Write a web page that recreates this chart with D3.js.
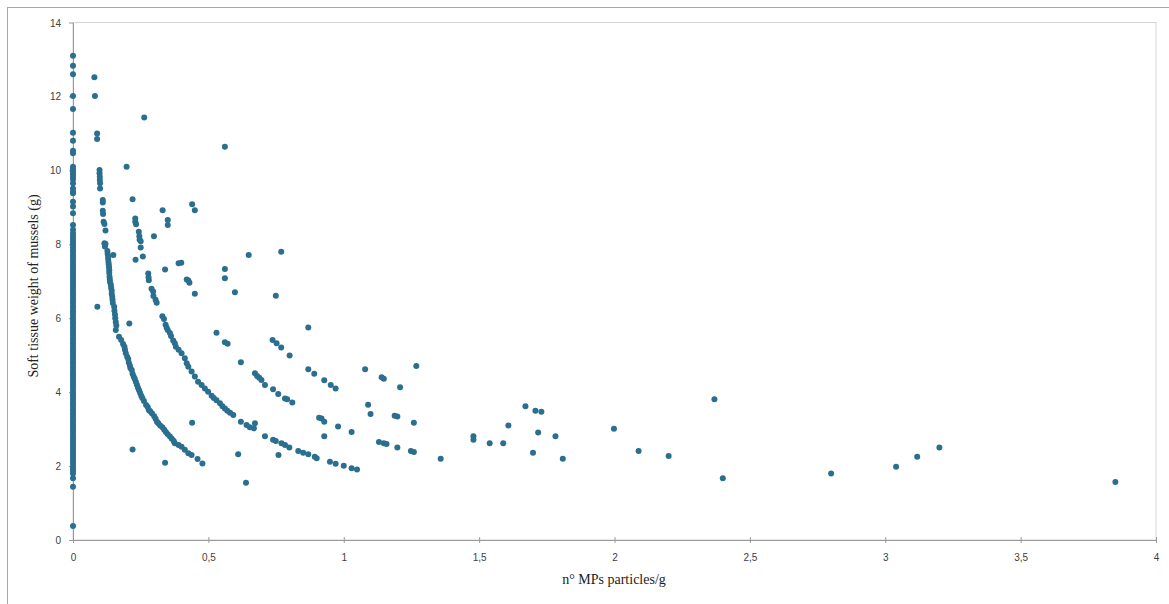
<!DOCTYPE html>
<html>
<head>
<meta charset="utf-8">
<script src="https://cdn.jsdelivr.net/npm/d3@7"></script>
<style>
  body { margin: 0; background: #fff; }
  .tick text { font-family: "Liberation Sans", Arial, sans-serif; font-size: 10px; fill: #404040; }
  .title { font-family: "Liberation Serif", "Times New Roman", serif; font-size: 14px; fill: #222; }
</style>
</head>
<body>
<svg width="1169" height="604"></svg>
<script>
// y values of the mussels with no particles (x = 0)
var atZero = [13.1, 12.83, 12.6, 12.01, 11.66, 11.02, 10.8, 10.53, 10.46, 10.1, 10.03, 9.97, 9.9, 9.83,
  9.76, 9.65, 9.51, 9.42, 9.38, 9.15, 9.02, 8.84, 8.52, 8.39, 8.3, 8.22, 8.15, 8.08, 8.01, 7.93, 7.86,
  7.8, 7.72, 7.65, 7.58, 7.5, 7.43, 7.36, 7.28, 7.21, 7.14, 7.06, 6.99, 6.92, 6.85, 6.77, 6.7, 6.63,
  6.55, 6.48, 6.41, 6.33, 6.26, 6.19, 6.12, 6.04, 5.97, 5.9, 5.83, 5.75, 5.68, 5.61, 5.54, 5.46, 5.39,
  5.32, 5.25, 5.17, 5.1, 5.03, 4.96, 4.88, 4.81, 4.74, 4.67, 4.59, 4.52, 4.45, 4.38, 4.3, 4.23, 4.16,
  4.09, 4.01, 3.94, 3.87, 3.8, 3.72, 3.65, 3.58, 3.51, 3.43, 3.36, 3.29, 3.22, 3.14, 3.07, 3.0, 2.93,
  2.85, 2.78, 2.71, 2.64, 2.56, 2.49, 2.42, 2.35, 2.27, 2.2, 2.13, 2.06, 1.98, 1.92, 1.86, 1.8, 1.67,
  1.44, 0.38];

// [n° MPs particles/g, soft tissue weight (g)]
var bandOne = [[0.079, 12.52], [0.081, 12.01], [0.089, 11.0], [0.089, 10.85], [0.098, 10.01], [0.098, 9.92],
  [0.099, 9.83], [0.099, 9.74], [0.1, 9.65], [0.1, 9.51], [0.11, 9.2], [0.11, 9.13], [0.11, 8.91],
  [0.111, 8.82], [0.113, 8.61], [0.116, 8.55], [0.12, 8.37], [0.116, 8.03], [0.12, 8.01], [0.118, 7.94],
  [0.127, 7.82], [0.128, 7.74], [0.13, 7.67], [0.13, 7.6], [0.131, 7.52], [0.132, 7.45], [0.133, 7.38],
  [0.134, 7.3], [0.134, 7.22], [0.135, 7.12], [0.136, 7.05], [0.137, 6.97], [0.14, 6.9], [0.141, 6.82],
  [0.143, 6.75], [0.143, 6.66], [0.145, 6.58], [0.146, 6.5], [0.147, 6.41], [0.152, 6.31], [0.153, 6.2],
  [0.155, 6.1], [0.156, 6.0], [0.158, 5.9], [0.16, 5.8], [0.158, 5.68], [0.17, 5.5], [0.178, 5.41],
  [0.185, 5.3], [0.19, 5.23], [0.192, 5.15], [0.195, 5.05], [0.2, 4.96], [0.204, 4.9], [0.206, 4.8],
  [0.21, 4.72], [0.212, 4.65], [0.217, 4.6], [0.22, 4.5], [0.224, 4.42], [0.228, 4.36], [0.232, 4.28],
  [0.236, 4.2], [0.24, 4.12], [0.244, 4.05], [0.248, 3.98], [0.252, 3.9], [0.256, 3.84], [0.262, 3.76],
  [0.27, 3.65], [0.276, 3.6], [0.28, 3.52], [0.285, 3.48], [0.292, 3.42], [0.3, 3.35], [0.305, 3.28],
  [0.31, 3.2], [0.315, 3.16], [0.322, 3.1], [0.33, 3.05], [0.337, 2.98], [0.343, 2.92], [0.35, 2.86],
  [0.358, 2.8], [0.365, 2.74], [0.372, 2.68], [0.376, 2.62], [0.39, 2.57], [0.401, 2.52], [0.413, 2.44],
  [0.426, 2.35], [0.438, 2.3], [0.46, 2.19], [0.478, 2.07]];

var bandTwo = [[0.198, 10.1], [0.22, 9.22], [0.23, 8.7], [0.23, 8.61], [0.233, 8.54], [0.243, 8.34],
  [0.245, 8.22], [0.246, 8.12], [0.25, 8.08], [0.25, 7.91], [0.258, 7.67], [0.278, 7.21], [0.279, 7.11],
  [0.28, 7.03], [0.29, 6.8], [0.296, 6.72], [0.297, 6.6], [0.305, 6.5], [0.309, 6.42], [0.33, 6.05],
  [0.336, 5.98], [0.342, 5.82], [0.346, 5.74], [0.35, 5.68], [0.358, 5.6], [0.362, 5.52], [0.37, 5.4],
  [0.376, 5.32], [0.38, 5.23], [0.39, 5.15], [0.401, 5.05], [0.413, 4.92], [0.42, 4.78], [0.426, 4.69],
  [0.438, 4.56], [0.45, 4.42], [0.462, 4.28], [0.475, 4.19], [0.487, 4.1], [0.499, 4.01], [0.512, 3.9],
  [0.52, 3.84], [0.53, 3.78], [0.543, 3.7], [0.552, 3.62], [0.561, 3.56], [0.57, 3.5], [0.58, 3.44],
  [0.592, 3.38], [0.62, 3.2], [0.641, 3.11], [0.653, 3.05], [0.668, 3.02], [0.672, 3.16], [0.709, 2.81],
  [0.739, 2.71], [0.749, 2.68], [0.77, 2.62], [0.783, 2.57], [0.799, 2.5], [0.832, 2.41], [0.85, 2.36],
  [0.869, 2.32], [0.893, 2.25], [0.9, 2.21], [0.949, 2.12], [0.97, 2.06], [1.0, 2.01], [1.029, 1.94],
  [1.049, 1.91]];

var scattered = [[0.263, 11.43], [0.561, 10.64], [0.44, 9.08], [0.45, 8.92], [0.331, 8.92], [0.35, 8.66],
  [0.35, 8.52], [0.299, 8.22], [0.149, 7.71], [0.231, 7.58], [0.34, 7.32], [0.39, 7.49], [0.4, 7.5],
  [0.42, 7.05], [0.426, 7.02], [0.43, 6.96], [0.45, 6.66], [0.09, 6.31], [0.208, 5.86], [0.22, 2.45],
  [0.34, 2.09], [0.44, 3.17], [0.61, 2.32], [0.639, 1.55], [0.759, 2.3], [0.53, 5.61], [0.561, 5.35],
  [0.571, 5.31], [0.62, 4.81], [0.672, 4.51], [0.68, 4.44], [0.688, 4.39], [0.696, 4.33], [0.709, 4.19],
  [0.739, 4.08], [0.758, 3.95], [0.783, 3.83], [0.791, 3.81], [0.81, 3.72], [0.737, 5.41], [0.752, 5.32],
  [0.769, 5.21], [0.8, 4.99], [0.869, 4.62], [0.891, 4.5], [0.928, 4.32], [0.952, 4.19], [0.97, 4.1],
  [0.869, 5.75], [0.598, 6.7], [0.749, 6.61], [0.561, 7.33], [0.561, 7.08], [0.649, 7.71], [0.769, 7.8],
  [0.909, 3.31], [0.918, 3.29], [0.928, 3.2], [0.979, 3.07], [1.029, 2.92], [0.928, 2.81], [1.079, 4.62],
  [1.09, 3.66], [1.099, 3.41], [1.14, 4.4], [1.148, 4.36], [1.208, 4.13], [1.268, 4.71], [1.188, 3.36],
  [1.198, 3.34], [1.259, 3.17], [1.13, 2.65], [1.148, 2.62], [1.158, 2.6], [1.198, 2.5], [1.248, 2.41],
  [1.259, 2.38], [1.358, 2.2], [1.479, 2.81], [1.479, 2.71], [1.539, 2.62], [1.589, 2.62], [1.608, 3.1],
  [1.671, 3.62], [1.708, 3.5], [1.73, 3.47], [1.718, 2.91], [1.699, 2.36], [1.782, 2.81], [1.809, 2.2],
  [1.998, 3.01], [2.089, 2.41], [2.2, 2.27], [2.369, 3.81], [2.4, 1.67], [2.8, 1.8], [3.04, 1.98],
  [3.118, 2.25], [3.2, 2.5], [3.85, 1.57]];

var xTicks = [0, 0.5, 1, 1.5, 2, 2.5, 3, 3.5, 4];
var yTicks = [0, 2, 4, 6, 8, 10, 12, 14];

var svg = d3.select("svg"),
  margin = { top: 22.5, right: 13, bottom: 64, left: 73 },
  width = +svg.attr("width") - margin.left - margin.right,
  height = +svg.attr("height") - margin.top - margin.bottom;

// outer chart frame
svg.append("rect")
  .attr("x", 7.5).attr("y", 7.5)
  .attr("width", 1180).attr("height", 620)
  .attr("fill", "none").attr("stroke", "#a8a8a8");

var xScale = d3.scaleLinear().domain([0, 4]).range([0, width]),
  yScale = d3.scaleLinear().domain([0, 14]).range([height, 0]);

var g = svg.append("g")
  .attr("transform", "translate(" + margin.left + "," + margin.top + ")");

// plot area border (top/right)
g.append("rect")
  .attr("x", 0).attr("y", 0)
  .attr("width", width).attr("height", height)
  .attr("fill", "none").attr("stroke", "#d4d4d4");

var comma = function (d) { return String(d).replace(".", ","); };

var xAxis = g.append("g")
  .attr("transform", "translate(0," + height + ")")
  .call(d3.axisBottom(xScale).tickValues(xTicks).tickFormat(comma).tickSizeInner(3).tickSizeOuter(0).tickPadding(11));
xAxis.selectAll(".tick line").attr("y1", -3);

var yAxis = g.append("g")
  .call(d3.axisLeft(yScale).tickValues(yTicks).tickSizeInner(4).tickSizeOuter(0).tickPadding(8));

g.selectAll(".domain, .tick line").attr("stroke", "#9a9a9a");
g.selectAll(".tick text").attr("dy", "0.35em");
xAxis.selectAll(".tick text").attr("dy", "0.71em");

svg.append("text")
  .attr("class", "title")
  .attr("transform", "translate(38,286) rotate(-90)")
  .attr("text-anchor", "middle")
  .text("Soft tissue weight of mussels (g)");

svg.append("text")
  .attr("class", "title")
  .attr("x", 614).attr("y", 584)
  .attr("text-anchor", "middle")
  .text("n° MPs particles/g");

var points = atZero.map(function (y) { return [0, y]; })
  .concat(bandOne, bandTwo, scattered);

g.selectAll(".dot")
  .data(points)
  .enter().append("circle")
  .attr("class", "dot")
  .attr("cx", function (d) { return xScale(d[0]); })
  .attr("cy", function (d) { return yScale(d[1]); })
  .attr("r", 3)
  .attr("fill", "#2a6f8f");
</script>
</body>
</html>
